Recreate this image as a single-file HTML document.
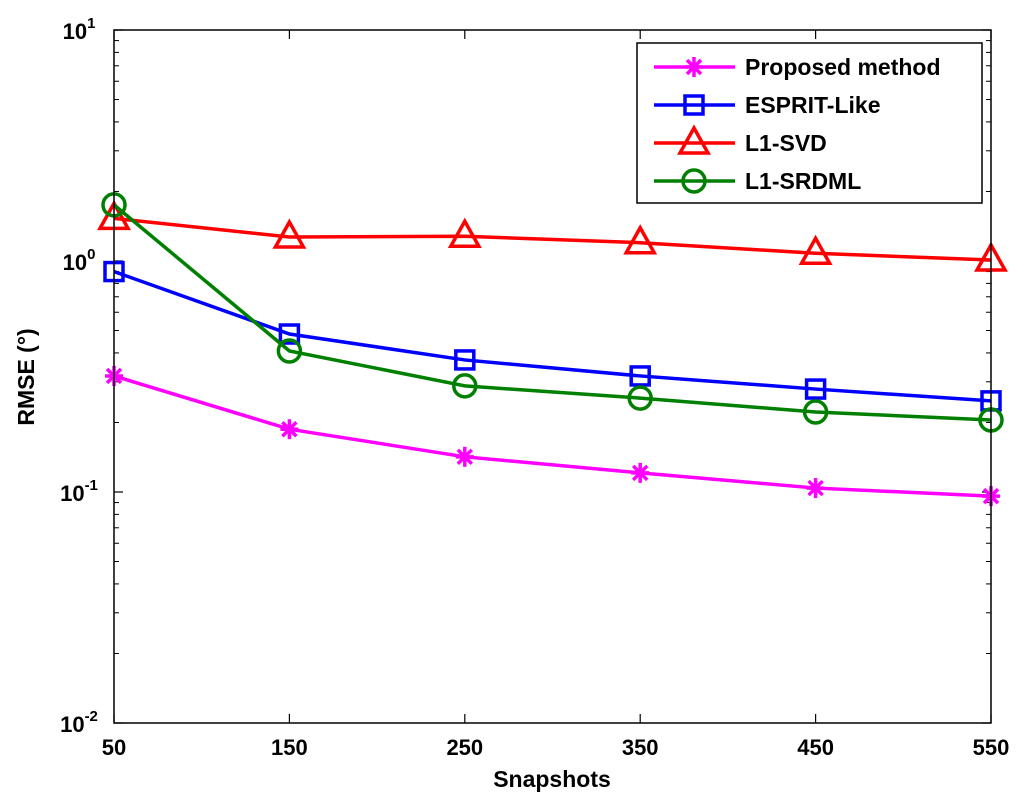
<!DOCTYPE html>
<html><head><meta charset="utf-8"><style>
body{margin:0;background:#fff}
svg text{font-family:"Liberation Sans",Arial,sans-serif;font-weight:bold;fill:#000}
</style></head><body>
<svg id="chart" width="1024" height="805" xmlns="http://www.w3.org/2000/svg">
<rect width="1024" height="805" fill="#fff"/>
<g id="grid"></g>
<g id="series"></g>
<rect x="114" y="30" width="877" height="693" fill="none" stroke="#000" stroke-width="1.5"/>
<text x="552" y="787" font-size="23" text-anchor="middle">Snapshots</text>
<text x="0" y="0" font-size="23" text-anchor="middle" transform="translate(34,377) rotate(-90)">RMSE (°)</text>
<g id="legend"></g>
</svg>
<script>
const categories=[50,150,250,350,450,550];
const proposed=[0.318,0.187,0.142,0.121,0.104,0.096];
const esprit=[0.90,0.483,0.373,0.318,0.279,0.248];
const l1svd=[1.53,1.27,1.28,1.20,1.08,1.01];
const srdml=[1.75,0.408,0.288,0.255,0.222,0.205];
const xTicks=[50,150,250,350,450,550];
const yDecades=[-2,-1,0,1];
const seriesNames=["Proposed method","ESPRIT-Like","L1-SVD","L1-SRDML"];

const NS="http://www.w3.org/2000/svg";
const L=114,R=991,T=30,B=723;
const xs=v=>L+(v-50)/(550-50)*(R-L);
const ys=v=>B-(Math.log10(v)+2)/3*(B-T);
function mk(tag,attrs,parent){const e=document.createElementNS(NS,tag);for(const k in attrs)e.setAttribute(k,attrs[k]);parent.appendChild(e);return e;}
const grid=document.getElementById('grid');
xTicks.forEach(t=>{
  const x=xs(t);
  const a=mk('line',{x1:x,x2:x,y1:B,y2:B-9,stroke:'#000','stroke-width':1.2},grid);
  
  
  mk('line',{x1:x,x2:x,y1:T,y2:T+9,stroke:'#000','stroke-width':1.2},grid);
  const tx=mk('text',{x:x,y:755,'font-size':22,'text-anchor':'middle'},grid);
  tx.textContent=t;
  
  
});
yDecades.forEach(d=>{
  const y=ys(Math.pow(10,d));
  mk('line',{x1:L,x2:L+9,y1:y,y2:y,stroke:'#000','stroke-width':1.2},grid);
  mk('line',{x1:R,x2:R-9,y1:y,y2:y,stroke:'#000','stroke-width':1.2},grid);
  const tx=mk('text',{x:79,y:y+9,'font-size':22,'text-anchor':'middle'},grid);
  
  
  tx.textContent='10';
  const s=mk('tspan',{dy:-11,'font-size':15},tx);s.textContent=String(d);
  if(d<1){for(let m=2;m<10;m++){const ym=ys(m*Math.pow(10,d));
    mk('line',{x1:L,x2:L+5,y1:ym,y2:ym,stroke:'#000','stroke-width':1},grid);
    mk('line',{x1:R,x2:R-5,y1:ym,y2:ym,stroke:'#000','stroke-width':1},grid);}}
});
const colors=['#ff00ff','#0000ff','#ff0000','#008000'];
const data=[proposed,esprit,l1svd,srdml];
const markers=['star','square','triangle','circle'];
function marker(type,x,y,c,g){
  if(type==='star'){[[0,-10,0,10],[-9,0,9,0],[-7,-7,7,7],[-7,7,7,-7]].forEach(p=>mk('line',{x1:x+p[0],y1:y+p[1],x2:x+p[2],y2:y+p[3],stroke:c,'stroke-width':3.5},g));}
  else if(type==='square')mk('rect',{x:x-9,y:y-9,width:18,height:18,fill:'none',stroke:c,'stroke-width':3.5},g);
  else if(type==='triangle')mk('polygon',{points:`${x},${y-15} ${x-14},${y+10} ${x+14},${y+10}`,fill:'none',stroke:c,'stroke-width':3.5},g);
  else mk('circle',{cx:x,cy:y,r:11,fill:'none',stroke:c,'stroke-width':3.5},g);
}
const sg=document.getElementById('series');
data.forEach((arr,i)=>{
  const g=mk('g',{},sg);
  
  
  mk('polyline',{points:arr.map((v,j)=>xs(categories[j])+','+ys(v)).join(' '),fill:'none',stroke:colors[i],'stroke-width':3.5},g);
  arr.forEach((v,j)=>marker(markers[i],xs(categories[j]),ys(v),colors[i],g));
});
const lg=document.getElementById('legend');
mk('rect',{x:637,y:43,width:345,height:160,fill:'#fff',stroke:'#000','stroke-width':1.5},lg);
const ly=[67,105,143,181];
seriesNames.forEach((n,i)=>{
  const g=mk('g',{},lg);
  
  
  mk('line',{x1:654,x2:735,y1:ly[i],y2:ly[i],stroke:colors[i],'stroke-width':3.5},g);
  marker(markers[i],694,ly[i],colors[i],g);
  const t=mk('text',{x:745,y:ly[i]+8,'font-size':23},g);t.textContent=n;
});
</script>
</body></html>
